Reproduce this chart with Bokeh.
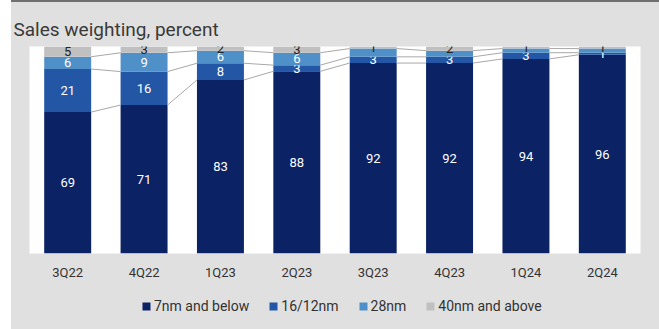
from bokeh.plotting import figure
from bokeh.models import ColumnDataSource, Legend, LegendItem, FixedTicker, Spacer, Range1d
from bokeh.layouts import row, column
from bokeh.embed import file_html
from bokeh.resources import INLINE
from bokeh.core.properties import value

categories = ["3Q22", "4Q22", "1Q23", "2Q23", "3Q23", "4Q23", "1Q24", "2Q24"]
nm7 = [69, 71, 83, 88, 92, 92, 94, 96]
nm16 = [21, 16, 8, 3, 3, 3, 3, 1]
nm28 = [6, 9, 6, 6, 4, 3, 2, 2]
nm40 = [5, 3, 2, 3, 1, 2, 1, 1]
lbl7 = ["69", "71", "83", "88", "92", "92", "94", "96"]
lbl16 = ["21", "16", "8", "3", "3", "3", "3", "1"]
lbl28 = ["6", "9", "6", "6", "", "", "", ""]
lbl40 = ["5", "3", "2", "3", "1", "2", "1", "1"]
series_names = ["7nm and below", "16/12nm", "28nm", "40nm and above"]
colors = ["#0b2265", "#2356a5", "#5090c8", "#c0c0c0"]

FONT = "Roboto"
BG = "#e0e0e0"
n = len(categories)
xs = list(range(n))
series = [nm7, nm16, nm28, nm40]
labels = [lbl7, lbl16, lbl28, lbl40]
totals = [sum(s[i] for s in series) for i in range(n)]
norm = [[s[i] / totals[i] * 100 for i in range(n)] for s in series]

p = figure(width=648, height=291, x_range=Range1d(-0.5, n - 0.5), y_range=Range1d(0, 100),
           output_backend="svg", toolbar_location=None,
           min_border_left=18, min_border_right=19, min_border_top=44, min_border_bottom=40)
p.border_fill_color = BG
p.background_fill_color = "white"
p.outline_line_color = None
p.xgrid.visible = False
p.ygrid.visible = False
p.yaxis.visible = False

p.title.text = "Sales weighting, percent"
p.title.text_font = FONT
p.title.text_font_size = "19px"
p.title.text_font_style = "normal"
p.title.text_color = "#3a3a3a"
p.title.align = "left"
p.title.offset = -16
p.title.vertical_align = "middle"

bw = 0.615
bottom = [0.0] * n
bounds = []
for k, (vals, col, lbl) in enumerate(zip(norm, colors, labels)):
    top = [bottom[i] + vals[i] for i in range(n)]
    src = ColumnDataSource(dict(x=xs, bottom=bottom, top=top,
                                mid=[(bottom[i] + top[i]) / 2 for i in range(n)], lbl=lbl))
    p.vbar(x="x", bottom="bottom", top="top", width=bw, source=src,
           fill_color=col, line_color=None)
    p.text(x="x", y="mid", text="lbl", source=src, text_align="center", text_baseline="middle",
           text_font=value(FONT), text_font_size="13px",
           text_color="#222222" if k == 3 else "white")
    bounds.append(top)
    bottom = top

# series lines connecting cumulative boundaries
for b in bounds[:3]:
    p.segment(x0=[i + bw / 2 for i in range(n - 1)], y0=b[:-1],
              x1=[i + 1 - bw / 2 for i in range(n - 1)], y1=b[1:],
              line_color="#a8a8a8", line_width=1)

p.xaxis.ticker = FixedTicker(ticks=xs)
p.xaxis.major_label_overrides = {i: c for i, c in enumerate(categories)}
p.xaxis.axis_line_color = None
p.xaxis.major_tick_line_color = None
p.xaxis.minor_tick_line_color = None
p.xaxis.major_label_standoff = 5
p.xaxis.major_label_text_font = FONT
p.xaxis.major_label_text_font_size = "13px"
p.xaxis.major_label_text_color = "#333333"

# legend strip (series drawn off-screen so only the legend is visible)
p2 = figure(width=648, height=36, x_range=Range1d(100, 101), y_range=Range1d(100, 101),
            output_backend="svg", toolbar_location=None,
            min_border_left=0, min_border_right=0, min_border_top=0, min_border_bottom=0)
p2.axis.visible = False
p2.grid.visible = False
p2.outline_line_color = None
p2.background_fill_color = BG
p2.border_fill_color = BG
items = []
for vals, col, name in zip(series, colors, series_names):
    r = p2.vbar(x=xs, top=vals, width=bw, fill_color=col, line_color=None)
    items.append(LegendItem(label=name, renderers=[r]))
legend = Legend(items=items, orientation="horizontal", location=(112, 15),
                padding=0, margin=0, spacing=19, glyph_width=10, glyph_height=10,
                label_standoff=3, label_height=12,
                label_text_font=FONT, label_text_font_size="14px", label_text_color="#333333",
                background_fill_alpha=0, border_line_color=None)
p2.add_layout(legend, "center")

top_line = Spacer(width=648, height=2, styles={"background-color": "#707070"})
left_pad = Spacer(width=11, height=329)
inner = column(top_line, p, p2, spacing=0, styles={"background-color": BG})
layout = row(left_pad, inner, spacing=0)

open("out.html", "w").write(file_html(layout, INLINE))
